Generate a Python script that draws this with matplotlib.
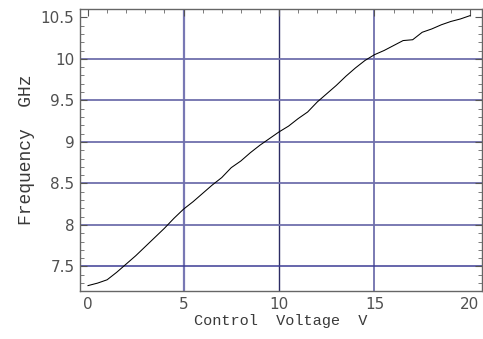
import matplotlib
matplotlib.use("Agg")

import matplotlib.pyplot as plt
import numpy as np
from matplotlib.ticker import MultipleLocator

voltage = np.arange(0, 20.5, 0.5)
frequency = [
    7.27, 7.30, 7.34, 7.43, 7.53, 7.63, 7.74, 7.85, 7.96, 8.08,
    8.19, 8.28, 8.38, 8.48, 8.57, 8.69, 8.77, 8.87, 8.96, 9.04,
    9.12, 9.19, 9.28, 9.36, 9.48, 9.58, 9.68, 9.79, 9.89, 9.98,
    10.05, 10.10, 10.16, 10.22, 10.23, 10.32, 10.36, 10.41, 10.45, 10.48,
    10.52,
]

x_ticks = [0, 5, 10, 15, 20]
x_tick_labels = ["0", "5", "10", "15", "20"]
y_ticks = [7.5, 8, 8.5, 9, 9.5, 10, 10.5]
y_tick_labels = ["7.5", "8", "8.5", "9", "9.5", "10", "10.5"]
x_grid = [5, 10, 15]
y_grid = [7.5, 8, 8.5, 9, 9.5, 10]

x_grid_style = {5: ("#7878b4", 1.6), 10: ("#2c2c64", 1.0), 15: ("#7070ac", 1.3)}
y_grid_style = {7.5: ("#3c3c94", 1.1)}
grid_default = ("#7070ac", 1.3)

fig = plt.figure(figsize=(4.83, 3.39), dpi=100)
ax = fig.add_axes([80 / 483, 1 - 291 / 339, 402 / 483, 282 / 339])

for xv in x_grid:
    color, lw = x_grid_style.get(xv, grid_default)
    ax.axvline(xv, color=color, linewidth=lw, zorder=1)
for yv in y_grid:
    color, lw = y_grid_style.get(yv, grid_default)
    ax.axhline(yv, color=color, linewidth=lw, zorder=1)

ax.plot(voltage, frequency, color="black", linewidth=0.75, zorder=3)

ax.set_xlim(-0.42, 20.63)
ax.set_ylim(7.205, 10.60)

ax.set_xticks(x_ticks)
ax.set_xticklabels(x_tick_labels)
ax.set_yticks(y_ticks)
ax.set_yticklabels(y_tick_labels)
ax.xaxis.set_minor_locator(MultipleLocator(1))
ax.yaxis.set_minor_locator(MultipleLocator(0.1))

ax.tick_params(axis="both", which="major", direction="in", length=5, width=0.8,
               color="#555555", labelsize=11, labelcolor="#505050", pad=4)
ax.tick_params(axis="both", which="minor", direction="in", length=3, width=0.6,
               color="#666666")
ax.tick_params(axis="x", which="both", bottom=False, top=True)
ax.tick_params(axis="y", which="both", left=True, right=True)

for spine in ax.spines.values():
    spine.set_color("#666666")
    spine.set_linewidth(1.0)

ax.set_xlabel("Control  Voltage  V", family="Liberation Mono", size=11,
              color="#3a3a3a", labelpad=2)
ax.set_ylabel("Frequency  GHz", family="Liberation Mono", size=13,
              color="#3a3a3a", labelpad=4)

fig.savefig("out.png", dpi=100)
